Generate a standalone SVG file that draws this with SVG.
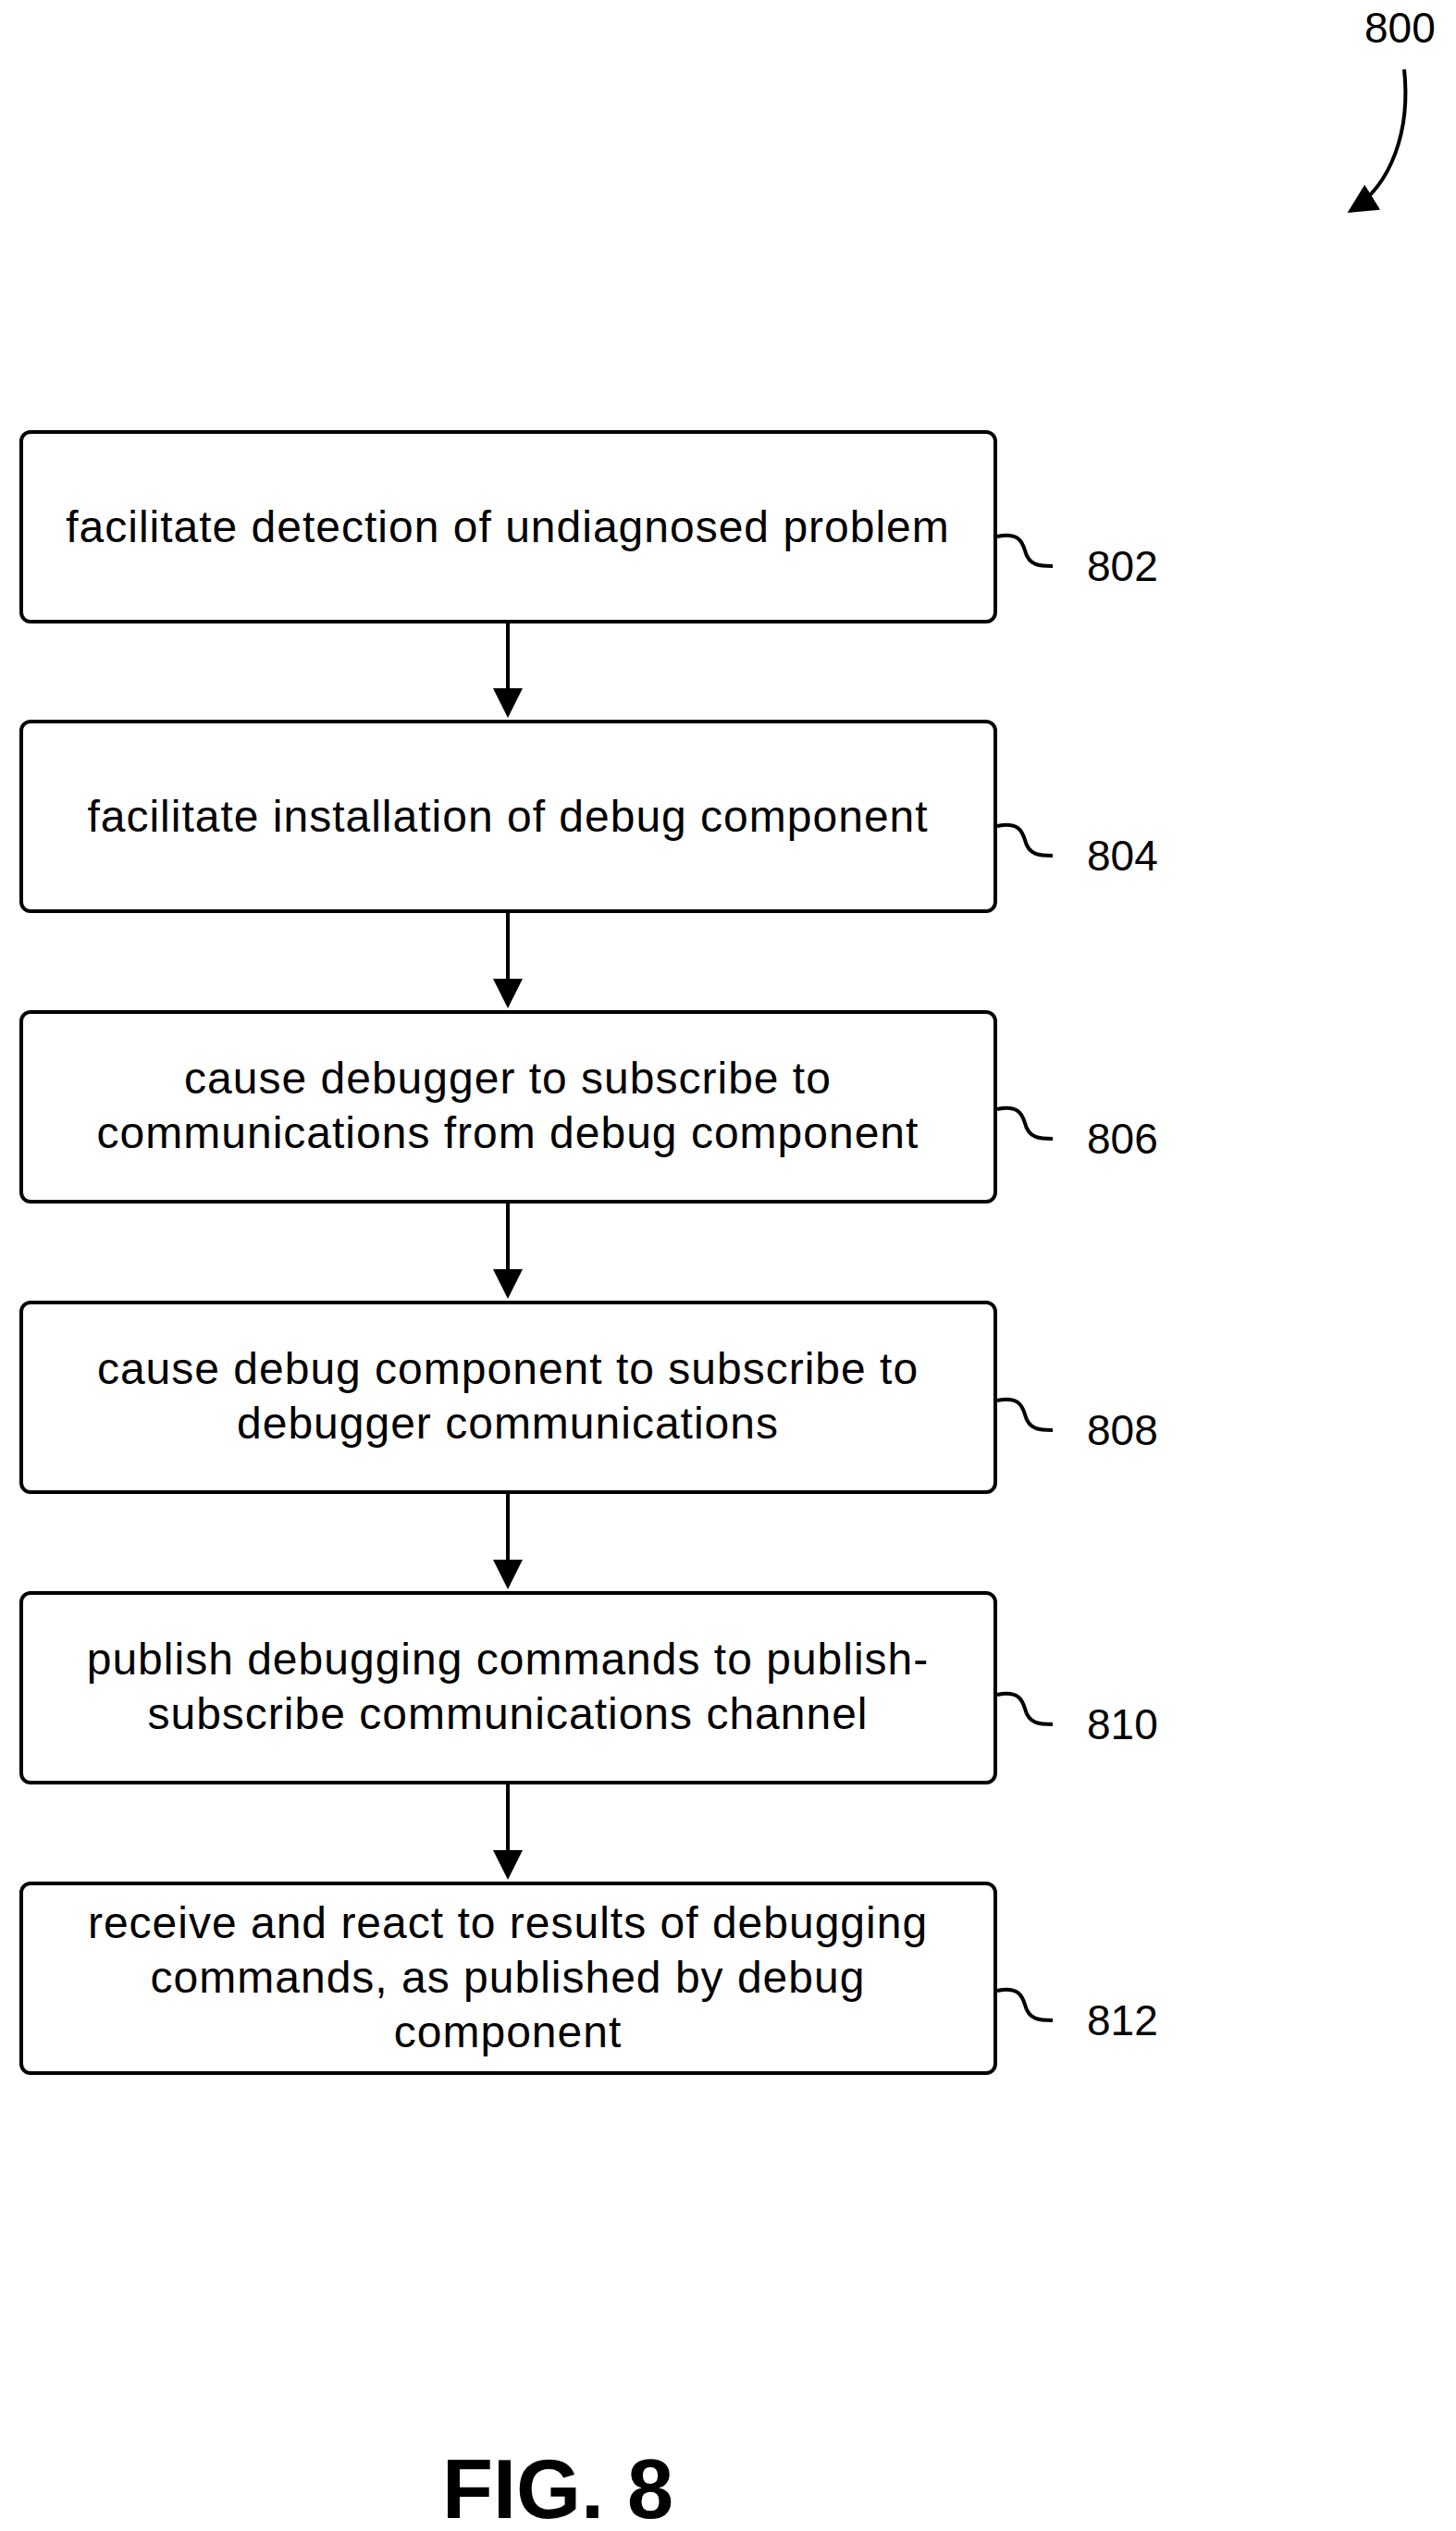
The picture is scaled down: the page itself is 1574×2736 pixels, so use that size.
<svg xmlns="http://www.w3.org/2000/svg" width="1574" height="2736" viewBox="0 0 1574 2736">
<style>
.b{fill:#fff;stroke:#000;stroke-width:4}
.t{font-family:"Liberation Sans",Arial,sans-serif;font-size:48px;letter-spacing:1px;text-anchor:middle;fill:#000}
.r{font-family:"Liberation Sans",Arial,sans-serif;font-size:46px;fill:#000}
.c{fill:none;stroke:#000;stroke-width:4}
</style>
<defs><marker id="a" markerWidth="8" markerHeight="8" refX="7" refY="4" orient="auto" markerUnits="strokeWidth"><path d="M0,0 L8,4 L0,8 z" fill="#000"/></marker></defs>
<rect width="1574" height="2736" fill="#fff"/>
<text class="r" x="1475" y="46">800</text>
<path class="c" d="M1518,75 C1525,140 1505,200 1460,228" marker-end="url(#a)"/>
<g id="n802"><rect class="b" x="23" y="467" width="1053" height="205" rx="10"/><text class="t" x="549" y="586">facilitate detection of undiagnosed problem</text><path class="c" d="M1078,580 C1100,575 1105,585 1108,595 C1112,612 1125,612 1138,612"/><text class="r" x="1175" y="628">802</text></g>
<g id="n804"><rect class="b" x="23" y="780" width="1053" height="205" rx="10"/><text class="t" x="549" y="899">facilitate installation of debug component</text><path class="c" d="M1078,893 C1100,888 1105,898 1108,908 C1112,925 1125,925 1138,925"/><text class="r" x="1175" y="941">804</text></g>
<g id="n806"><rect class="b" x="23" y="1094" width="1053" height="205" rx="10"/><text class="t" x="549" y="1182">cause debugger to subscribe to</text><text class="t" x="549" y="1241">communications from debug component</text><path class="c" d="M1078,1199 C1100,1194 1105,1204 1108,1214 C1112,1231 1125,1231 1138,1231"/><text class="r" x="1175" y="1247">806</text></g>
<g id="n808"><rect class="b" x="23" y="1408" width="1053" height="205" rx="10"/><text class="t" x="549" y="1496">cause debug component to subscribe to</text><text class="t" x="549" y="1555">debugger communications</text><path class="c" d="M1078,1514 C1100,1509 1105,1519 1108,1529 C1112,1546 1125,1546 1138,1546"/><text class="r" x="1175" y="1562">808</text></g>
<g id="n810"><rect class="b" x="23" y="1722" width="1053" height="205" rx="10"/><text class="t" x="549" y="1810">publish debugging commands to publish-</text><text class="t" x="549" y="1869">subscribe communications channel</text><path class="c" d="M1078,1832 C1100,1827 1105,1837 1108,1847 C1112,1864 1125,1864 1138,1864"/><text class="r" x="1175" y="1880">810</text></g>
<g id="n812"><rect class="b" x="23" y="2036" width="1053" height="205" rx="10"/><text class="t" x="549" y="2095">receive and react to results of debugging</text><text class="t" x="549" y="2154">commands, as published by debug</text><text class="t" x="549" y="2213">component</text><path class="c" d="M1078,2152 C1100,2147 1105,2157 1108,2167 C1112,2184 1125,2184 1138,2184"/><text class="r" x="1175" y="2200">812</text></g>
<g id="connectors">
<line class="c" x1="549" y1="672" x2="549" y2="772" marker-end="url(#a)"/>
<line class="c" x1="549" y1="985" x2="549" y2="1086" marker-end="url(#a)"/>
<line class="c" x1="549" y1="1299" x2="549" y2="1400" marker-end="url(#a)"/>
<line class="c" x1="549" y1="1613" x2="549" y2="1714" marker-end="url(#a)"/>
<line class="c" x1="549" y1="1927" x2="549" y2="2028" marker-end="url(#a)"/>
</g>
<text x="603" y="2722" style="font-family:'Liberation Sans',Arial,sans-serif;font-size:90px;font-weight:bold;text-anchor:middle">FIG. 8</text>
</svg>
